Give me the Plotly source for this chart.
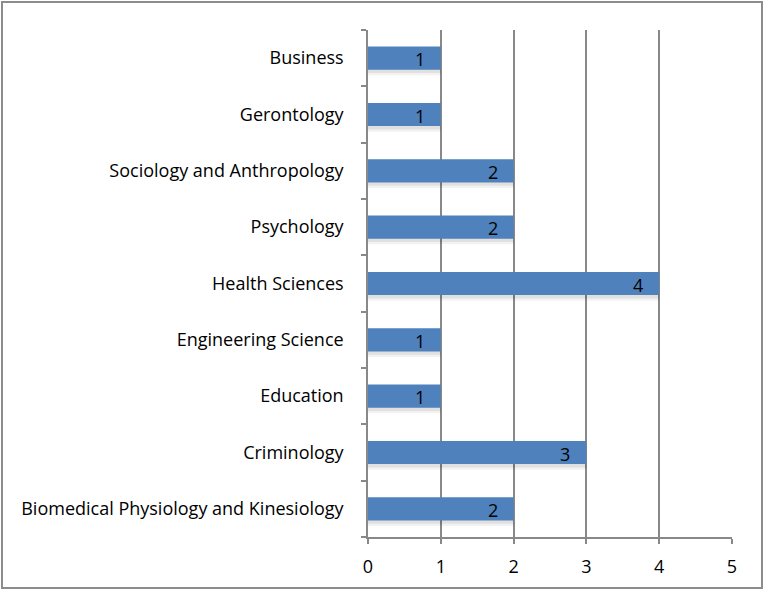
import plotly.graph_objects as go

categories = [
    "Biomedical Physiology and Kinesiology",
    "Criminology",
    "Education",
    "Engineering Science",
    "Health Sciences",
    "Psychology",
    "Sociology and Anthropology",
    "Gerontology",
    "Business",
]
values = [2, 3, 1, 1, 4, 2, 2, 1, 1]
x_ticks = [0, 1, 2, 3, 4, 5]

FONT = "Open Sans"
FS = 18
BAR_W = 0.41
fig = go.Figure()
# soft shadow under the bars (Excel style)
for alpha, extra in [(0.05, 0.10), (0.07, 0.06)]:
    fig.add_trace(go.Bar(
        y=categories, x=values, orientation="h",
        marker=dict(color=f"rgba(0,0,0,{alpha})", line=dict(width=0)),
        width=BAR_W, offset=-BAR_W / 2 - extra,
        hoverinfo="skip",
    ))
fig.add_trace(go.Bar(
    y=categories, x=values, orientation="h",
    marker=dict(color="#4F81BD", line=dict(width=0)),
    width=BAR_W, offset=-BAR_W / 2,
    hoverinfo="skip",
))

annotations = [
    dict(x=v, y=c, xref="x", yref="y", text=str(v), showarrow=False,
         xanchor="right", yanchor="middle", xshift=-14, yshift=-1,
         font=dict(family=FONT, size=FS, color="black"))
    for c, v in zip(categories, values)
]

fig.update_layout(
    width=764, height=590,
    margin=dict(l=368, r=32, t=30, b=53),
    paper_bgcolor="white", plot_bgcolor="white",
    showlegend=False, barmode="overlay",
    font=dict(family=FONT, size=FS, color="black"),
    annotations=annotations,
    xaxis=dict(
        range=[0, 5], tickvals=x_ticks, ticktext=[str(t) for t in x_ticks],
        showgrid=True, gridcolor="#888888", gridwidth=1.5,
        showline=True, linecolor="#888888", linewidth=1.5,
        ticks="outside", ticklen=5, tickcolor="#888888", tickwidth=1.5,
        zeroline=False, fixedrange=True, ticklabelstandoff=8,
        tickfont=dict(family=FONT, size=FS),
    ),
    yaxis=dict(
        categoryorder="array", categoryarray=categories,
        showgrid=False, showline=True, linecolor="#888888", linewidth=1.5,
        ticks="outside", ticklen=5, tickcolor="#888888", tickwidth=1.5,
        tickson="boundaries", ticklabelstandoff=19,
        tickfont=dict(family=FONT, size=FS), fixedrange=True,
    ),
    shapes=[dict(
        type="rect", xref="paper", yref="paper",
        x0=-366/364, x1=1 + 30/364, y0=-51/507, y1=1 + 28/507,
        line=dict(color="#8c8c8c", width=2), fillcolor="rgba(0,0,0,0)",
        layer="below",
    )],
)

fig.write_html(
    "out.html",
    config={"displayModeBar": False},
    post_script="document.body.style.margin='0';document.body.style.overflow='hidden';",
)
